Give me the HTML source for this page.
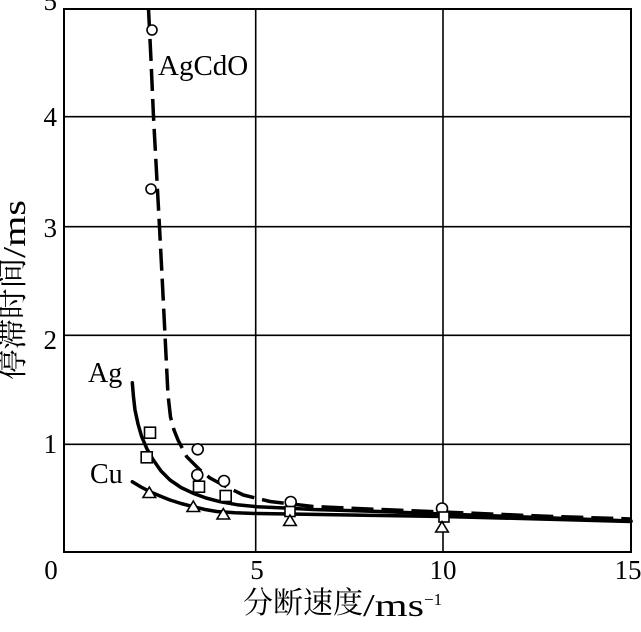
<!DOCTYPE html>
<html>
<head>
<meta charset="utf-8">
<style>
  html, body { margin: 0; padding: 0; background: #fff; }
  svg { display: block; }
  text { font-family: "Liberation Serif", "Noto Serif CJK SC", serif; fill: #000; }
  .cjk { font-family: "Noto Serif CJK SC", "Liberation Serif", serif; }
</style>
</head>
<body>
<svg width="641" height="632" viewBox="0 0 641 632" xmlns="http://www.w3.org/2000/svg">
  <rect x="0" y="0" width="641" height="632" fill="#fff"/>

  <!-- grid -->
  <g stroke="#000" stroke-width="1.6" fill="none">
    <line x1="255.7" y1="9" x2="255.7" y2="552"/>
    <line x1="443" y1="9" x2="443" y2="552"/>
    <line x1="64" y1="444.3" x2="631" y2="444.3"/>
    <line x1="64" y1="335.3" x2="631" y2="335.3"/>
    <line x1="64" y1="226.7" x2="631" y2="226.7"/>
    <line x1="64" y1="116.7" x2="631" y2="116.7"/>
    <rect x="64" y="9" width="567" height="543" stroke-width="2"/>
  </g>

  <!-- curves -->
  <g fill="none" stroke="#000" stroke-width="3.5" stroke-linejoin="round">
    <!-- AgCdO dashed -->
    <polyline stroke-dasharray="22 8" points="148.5,9 151,60 153.5,117 156.5,172 159.5,227 162.5,285 165,335 166.5,365 168,395 170.5,417 174,430 178,440 186.7,456.7 200,470 210,478 226.7,487 243.3,495 270,501.5 313,506.5 380,509.5 443,512 540,516 631,519"/>
    <!-- Ag solid -->
    <polyline stroke-linecap="round" points="132.3,382.7 133.5,397 135,410 138,424 141.7,436.7 147,449 153.3,460 161,471 170,480 181,487.5 193.3,493.3 206,498 220,501.7 237,504.7 256.7,506.7 285,508 313.3,509.5 380,511.5 443,514 540,517.5 631,521"/>
    <!-- Cu solid -->
    <polyline stroke-linecap="round" points="132.3,481.7 141,487 150,491.7 160,496 170,500 181,503.5 193.3,506.7 205,509.5 216.7,511.5 235,512.8 256.7,513.5 290,514 320,514.5 380,515.5 443,516.5 540,519 631,521.5"/>
  </g>

  <!-- markers: circles -->
  <g fill="#fff" stroke="#000" stroke-width="1.6">
    <circle cx="152" cy="30" r="5"/>
    <circle cx="151" cy="189" r="5"/>
    <circle cx="197.7" cy="449.3" r="5.5"/>
    <circle cx="197.3" cy="475" r="5.5"/>
    <circle cx="224" cy="481" r="5.5"/>
    <circle cx="290.7" cy="502" r="5.5"/>
    <circle cx="442" cy="508.5" r="5.5"/>
  </g>
  <!-- squares -->
  <g fill="#fff" stroke="#000" stroke-width="1.6">
    <rect x="144.5" y="427.2" width="11" height="11"/>
    <rect x="141.2" y="451.8" width="11" height="11"/>
    <rect x="193.5" y="481.2" width="11" height="11"/>
    <rect x="220.2" y="490.5" width="11" height="11"/>
    <rect x="285" y="506.5" width="10" height="10"/>
    <rect x="439" y="512" width="10" height="10"/>
  </g>
  <!-- triangles -->
  <g fill="#fff" stroke="#000" stroke-width="1.6">
    <polygon points="149.3,487 143,497.5 155.6,497.5"/>
    <polygon points="193.3,501 187,511.5 199.6,511.5"/>
    <polygon points="223.3,508.5 217,519 229.6,519"/>
    <polygon points="290,515 283.7,525.5 296.3,525.5"/>
    <polygon points="442,521.5 435.7,532 448.3,532"/>
  </g>

  <!-- series labels -->
  <text x="158" y="75" font-size="29">AgCdO</text>
  <text x="88" y="382" font-size="28">Ag</text>
  <text x="90" y="483" font-size="28">Cu</text>

  <!-- y tick labels -->
  <g font-size="27" text-anchor="end">
    <text x="57" y="10">5</text>
    <text x="57" y="126">4</text>
    <text x="57" y="237">3</text>
    <text x="57" y="349">2</text>
    <text x="57" y="453">1</text>
  </g>
  <!-- x tick labels -->
  <g font-size="27" text-anchor="middle">
    <text x="51" y="579">0</text>
    <text x="257" y="579">5</text>
    <text x="443" y="579">10</text>
    <text x="628" y="579">15</text>
  </g>

  <!-- x axis title -->
  <text class="cjk" x="243" y="613" font-size="30" textLength="120" lengthAdjust="spacingAndGlyphs">分断速度</text>
  <text x="363" y="616" font-size="32" textLength="61" lengthAdjust="spacingAndGlyphs">/ms</text>
  <text x="424" y="605" font-size="17">−1</text>

  <!-- y axis title -->
  <g transform="translate(25,380) rotate(-90)">
    <text class="cjk" x="0" y="-2" font-size="30" textLength="122" lengthAdjust="spacingAndGlyphs">停滞时间</text>
    <text x="122" y="0" font-size="32" textLength="58" lengthAdjust="spacingAndGlyphs">/ms</text>
  </g>
</svg>
</body>
</html>
